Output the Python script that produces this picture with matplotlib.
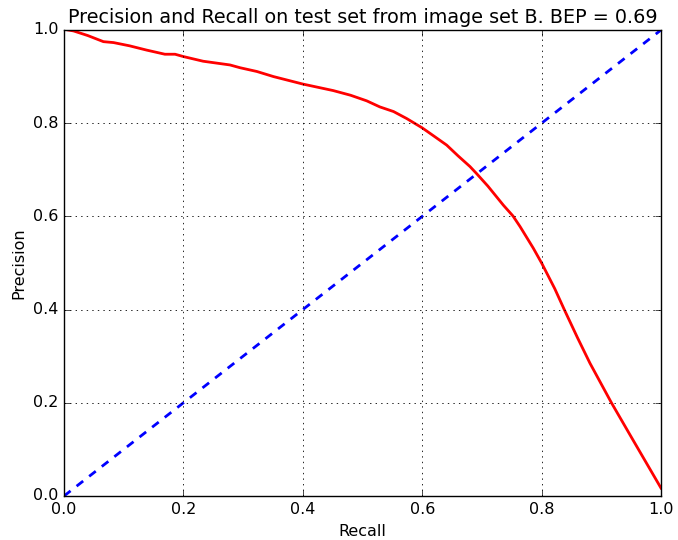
import matplotlib
matplotlib.use("Agg")
import matplotlib.pyplot as plt

recall = [0.007, 0.016, 0.04, 0.066, 0.083, 0.11, 0.138, 0.169, 0.186, 0.20, 0.233,
          0.278, 0.295, 0.323, 0.351, 0.40, 0.451, 0.48, 0.507, 0.529, 0.552, 0.574,
          0.60, 0.62, 0.641, 0.66, 0.68, 0.691, 0.71, 0.736, 0.752, 0.764, 0.786,
          0.80, 0.822, 0.838, 0.86, 0.881, 0.917, 0.95, 1.0]
precision = [1.0, 0.998, 0.988, 0.975, 0.973, 0.966, 0.957, 0.948, 0.948, 0.943, 0.933,
             0.925, 0.919, 0.911, 0.90, 0.884, 0.870, 0.860, 0.848, 0.835, 0.825, 0.81,
             0.79, 0.772, 0.753, 0.73, 0.707, 0.692, 0.665, 0.624, 0.601, 0.578, 0.532,
             0.50, 0.445, 0.40, 0.34, 0.285, 0.20, 0.127, 0.017]
diag = [0.0, 1.0]
ticks = [0.0, 0.2, 0.4, 0.6, 0.8, 1.0]
tick_labels = ["0.0", "0.2", "0.4", "0.6", "0.8", "1.0"]

plt.style.use("classic")
plt.rcParams["font.family"] = ["DejaVu Sans"]

fig = plt.figure(figsize=(6.78, 5.40), dpi=100)
ax = fig.add_axes([64/678, 44/540, 597/678, 466/540])

ax.plot(recall, precision, color="red", linewidth=2)
ax.plot(diag, diag, color="blue", linestyle="--", linewidth=2, dashes=(6, 5.5))

ax.set_xlim(0, 1)
ax.set_ylim(0, 1)
ax.set_xticks(ticks)
ax.set_xticklabels(tick_labels, fontsize=11.5)
ax.set_yticks(ticks)
ax.set_yticklabels(tick_labels, fontsize=11.5)
ax.grid(True, color="black", linestyle=":", linewidth=0.6)
ax.set_xlabel("Recall", fontsize=11.5)
ax.set_ylabel("Precision", fontsize=11.5)
ax.set_title("Precision and Recall on test set from image set B. BEP = 0.69", fontsize=13.8)

fig.savefig("out.png", dpi=100)
